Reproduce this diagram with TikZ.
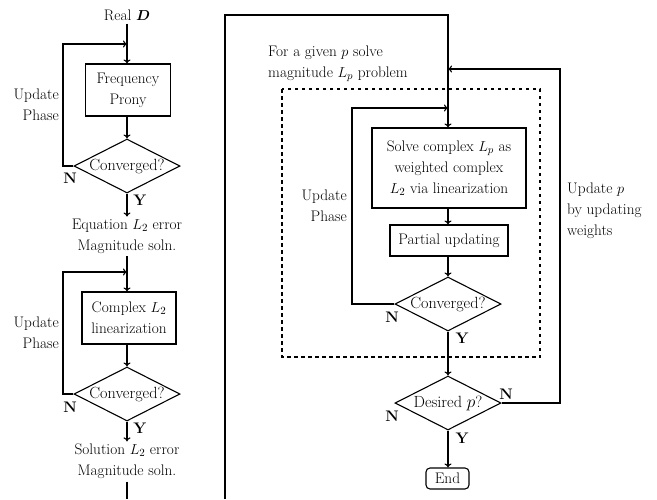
\documentclass[tikz,border=0pt]{standalone}
\usepackage{bm}
\usetikzlibrary{shapes.geometric,arrows.meta}
\begin{document}
\begin{tikzpicture}[x=1pt,y=-1pt,
  every node/.style={font=\fontsize{15.3}{21}\selectfont},
  box/.style={draw, rectangle, align=center, inner sep=0pt, line width=1.1pt},
  dec/.style={draw, diamond, aspect=2, inner xsep=-5pt, inner ysep=0pt, minimum width=106pt, minimum height=54pt, line width=1.1pt, font=\fontsize{16.2}{21}\selectfont},
  endbox/.style={draw, rectangle, rounded corners=4pt, inner sep=0pt, minimum width=43pt, minimum height=21pt, line width=1.1pt},
  lbl/.style={font=\fontsize{15.3}{21}\selectfont\bfseries, inner sep=0pt},
  txt/.style={align=center, inner sep=0pt},
  flow/.style={-{To[length=4pt,width=7pt]}, line width=1.1pt},
  plain/.style={line width=1.1pt},
  frame/.style={dash pattern=on 3.5pt off 3.5pt, line width=1.1pt}]
\useasboundingbox (0,0) rectangle (657,499);

% ---------- left column, first block ----------
\node[txt] (real) at (127,15) {Real $\bm{D}$};
\node[box, minimum width=85pt, minimum height=52pt] (fp) at (128,90) {Frequency\\Prony};
\node[dec] (c1) at (127,166) {Converged?};
\node[txt] (eq) at (127,236) {Equation $L_2$ error\\Magnitude soln.};
\coordinate (j1) at (127,44);
\coordinate (l1) at (63,44);
\draw[flow] ([yshift=-3pt]real.south) -- (fp.north -| real.south);
\draw[flow] (c1.west) -| (l1) -- (j1);
\draw[flow] (fp.south -| c1.north) -- (c1.north);
\draw[flow] (c1.south) -- ([yshift=2pt]eq.north);
\node[lbl] (n1) at (70,178) {N};
\node[lbl] (y1) at (140,200) {Y};
\node[txt, anchor=east, align=right] (up1) at (59,105) {Update\\Phase};

% ---------- left column, second block ----------
\node[box, minimum width=94pt, minimum height=52pt] (cl) at (129,318) {Complex $L_2$\\linearization};
\node[dec] (c2) at (127,394) {Converged?};
\node[txt] (sol) at (127,461) {Solution $L_2$ error\\Magnitude soln.};
\coordinate (j2) at (127,272);
\coordinate (l2) at (63,272);
\coordinate (bl) at (127,499);
\draw[flow] ([yshift=-3pt]eq.south) -- (cl.north -| eq.south);
\draw[flow] (c2.west) -| (l2) -- (j2);
\draw[flow] (cl.south -| c2.north) -- (c2.north);
\draw[flow] (c2.south) -- ([yshift=2pt]sol.north);
\draw[plain] ([yshift=-3pt]sol.south) -- (bl);
\node[lbl] (n2) at (70,407) {N};
\node[lbl] (y2) at (140,428) {Y};
\node[txt, anchor=east, align=right] (up2) at (59,333) {Update\\Phase};

% ---------- right part ----------
\draw[frame] (282,89) rectangle (540,357);
\node[txt, anchor=west, align=left] (given) at (268,64) {For a given $p$ solve\\magnitude $L_p$ problem};
\node[box, minimum width=154pt, minimum height=80pt] (solve) at (449,168) {Solve complex $L_p$ as\\weighted complex\\$L_2$ via linearization};
\node[box, minimum width=118pt, minimum height=31pt] (part) at (449,240.5) {Partial updating};
\node[dec] (c3) at (448,304) {Converged?};
\node[dec] (des) at (448,403) {Desired $p$?};
\node[endbox] (end) at (447.5,478.5) {End};

\coordinate (b0) at (225,499);
\coordinate (t1) at (225,15);
\coordinate (t2) at (448,15);
\coordinate (j3) at (448,108);
\coordinate (l3) at (352,108);
\coordinate (j4) at (448,69);
\coordinate (r4) at (560,69);

\draw[flow] (b0) -- (t1) -- (t2) -- (solve.north -| t2);
\draw[flow] (c3.west) -| (l3) -- (j3);
\draw[flow] (des.east) -| (r4) -- (j4);
\draw[flow] (solve.south -| t2) -- (part.north -| t2);
\draw[flow] (part.south -| t2) -- (c3.north);
\draw[flow] (c3.south) -- (des.north);
\draw[flow] (des.south) -- (end.north -| des.south);

\node[lbl] (n3) at (392,317) {N};
\node[lbl] (y3) at (462,338) {Y};
\node[lbl] (n4) at (392,416) {N};
\node[lbl] (n5) at (506,394) {N};
\node[lbl] (y4) at (462,438) {Y};
\node[txt, anchor=east, align=right] (up3) at (347,206) {Update\\Phase};
\node[txt, anchor=west, align=left] (upp) at (567,211) {Update $p$\\by updating\\weights};
\end{tikzpicture}
\end{document}
